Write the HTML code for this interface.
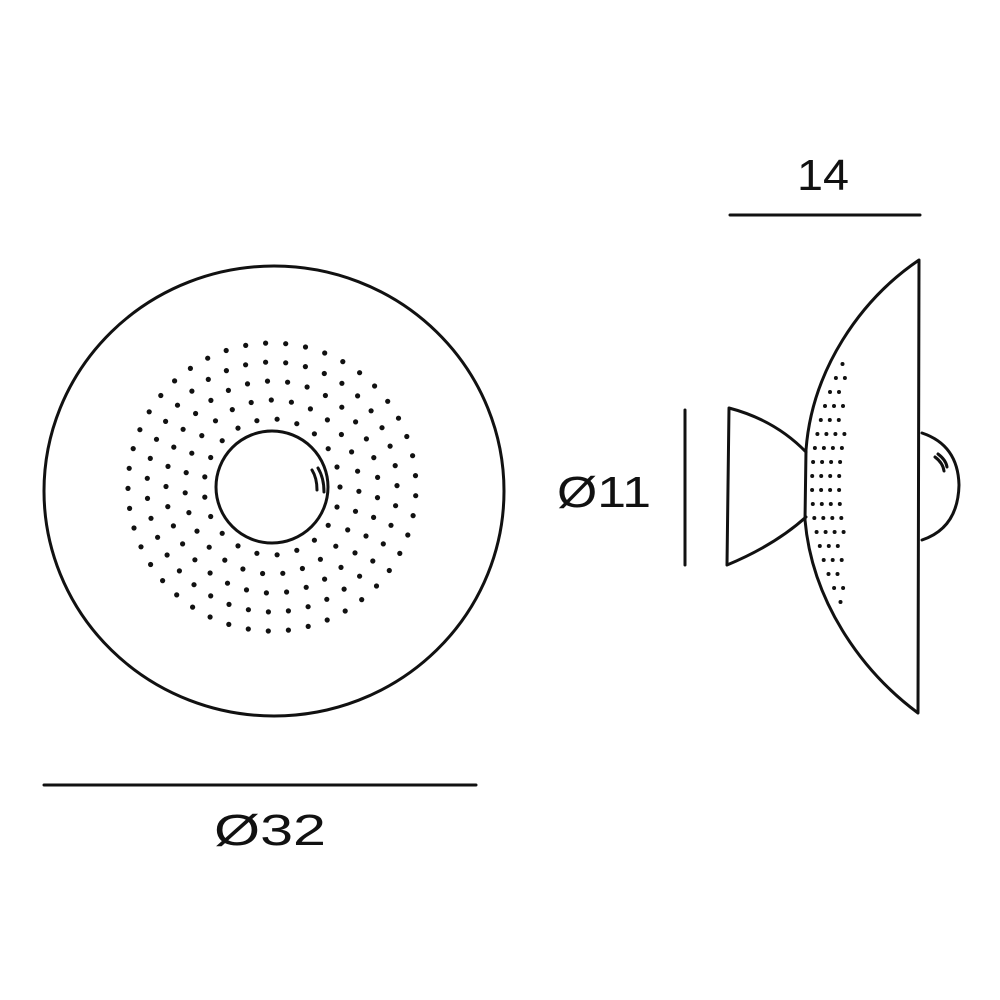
<!DOCTYPE html>
<html><head><style>
html,body{margin:0;padding:0;background:#fff;}
svg{display:block;}
text{font-family:"Liberation Sans",sans-serif;font-size:44px;fill:#111;}
</style></head><body>
<svg id="s" width="1000" height="1000" viewBox="0 0 1000 1000" xmlns="http://www.w3.org/2000/svg">
<g fill="none" stroke="#111" stroke-width="3" stroke-linejoin="round" stroke-linecap="round">
<ellipse cx="274" cy="491" rx="230" ry="225"/>
<circle cx="272" cy="487" r="56"/>
<path d="M318 468 q6 10 6 24 M312 470 q5 8 5 20"/>
<line x1="44" y1="785" x2="476" y2="785"/>
<line x1="730" y1="215" x2="920" y2="215"/>
<line x1="685" y1="410" x2="685" y2="565"/>
<path d="M919 260 C860 300 812 370 806 450 L805 520 C812 600 860 670 918 713 Z"/>
<path d="M729 408 Q775 420 806 452 M727 565 Q775 545 806 517 M729 408 L727 565"/>
<path d="M922 433 Q958 445 959 485 Q958 528 922 540"/>
<path d="M935 457 q8 6 9 14 M938 454 q8 6 9 13"/>
</g>
<g id="dots" fill="#111"></g>
<text x="214" y="845" textLength="112" lengthAdjust="spacingAndGlyphs">Ø32</text>
<text x="797" y="190" textLength="52" lengthAdjust="spacingAndGlyphs">14</text>
<text x="557" y="507" textLength="94" lengthAdjust="spacingAndGlyphs">Ø11</text>
</svg>
<script>
var g=document.getElementById('dots'),h='';
var rs=[68,87,106,125,144];
for(var i=0;i<rs.length;i++){var r=rs[i],n=Math.round(2*Math.PI*r/20);
for(var k=0;k<n;k++){var a=2*Math.PI*k/n+i*0.05;var x=272+r*Math.cos(a),y=487+r*Math.sin(a);
h+='<circle cx="'+x.toFixed(1)+'" cy="'+y.toFixed(1)+'" r="2.6"/>';}}
for(var y=350;y<=615;y+=14){var t=(y-485)/135;var xl=806+38*t*t+6;
for(var x=xl;x<=845;x+=9){h+='<circle cx="'+x.toFixed(1)+'" cy="'+y+'" r="2"/>';}}
g.innerHTML=h;
</script>
</body></html>
